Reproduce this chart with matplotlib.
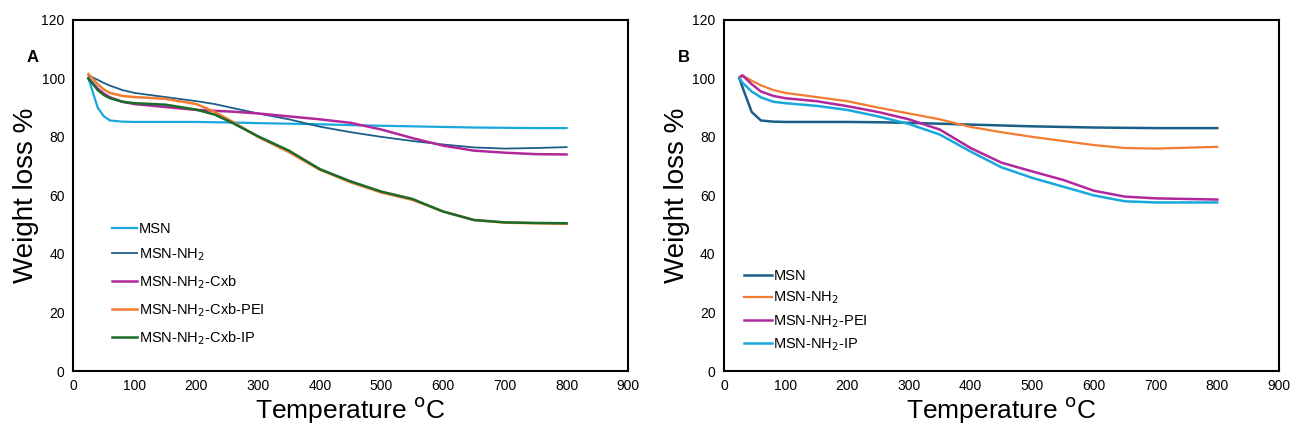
import numpy as np
import matplotlib.pyplot as plt

plt.rcParams['font.family'] = ['Liberation Sans', 'DejaVu Sans']

# ---- panel A data (temperature in C, weight %) ----
temp_a = [25, 40, 50, 60, 80, 100, 150, 200, 230, 260, 300, 350, 400, 450, 500, 550, 600, 650, 700, 750, 800]
msn_a = [100, 90, 87, 85.6, 85.2, 85.1, 85.1, 85.1, 85.0, 84.9, 84.7, 84.5, 84.3, 84.0, 83.8, 83.6, 83.4, 83.2, 83.1, 83.0, 83.0]
nh2_a = [101, 99.5, 98.4, 97.5, 96, 95, 93.6, 92.2, 91.2, 89.8, 88.0, 86.0, 83.5, 81.6, 80.0, 78.6, 77.4, 76.4, 76.0, 76.2, 76.5]
cxb_a = [100, 96.5, 94.8, 93.5, 92, 91.2, 90.2, 89.2, 88.9, 88.6, 88.0, 87.0, 86.0, 84.8, 82.5, 79.6, 77.0, 75.3, 74.6, 74.1, 74.0]
pei_a = [101.5, 98, 96.2, 95, 94, 93.6, 93.0, 91.2, 88.5, 85.0, 80.0, 74.8, 68.8, 64.5, 61.0, 58.5, 54.5, 51.6, 50.7, 50.5, 50.3]
ip_a = [100, 96, 94.3, 93.2, 92, 91.5, 91.0, 89.3, 87.6, 84.6, 80.2, 75.3, 69.0, 64.8, 61.3, 58.8, 54.5, 51.6, 50.8, 50.6, 50.5]

# ---- panel B data ----
temp_b = [25, 30, 45, 60, 80, 100, 150, 200, 250, 300, 350, 400, 450, 500, 550, 600, 650, 700, 750, 800]
msn_b = [100, 97, 88.5, 85.6, 85.2, 85.1, 85.1, 85.1, 85.0, 84.8, 84.5, 84.2, 83.9, 83.6, 83.4, 83.2, 83.1, 83.0, 83.0, 83.0]
nh2_b = [100.5, 101, 99.2, 97.6, 96, 95, 93.6, 92.2, 90.0, 88.0, 86.0, 83.4, 81.6, 80.0, 78.6, 77.2, 76.2, 76.0, 76.3, 76.6]
pei_b = [100, 101, 98, 95.5, 94, 93.2, 92.2, 90.5, 88.5, 86.0, 82.5, 76.2, 71.2, 68.2, 65.3, 61.6, 59.6, 59.0, 58.8, 58.6]
ip_b = [100, 98.5, 95.5, 93.5, 92, 91.5, 90.6, 89.2, 87.0, 84.4, 80.8, 75.0, 69.6, 66.0, 63.0, 60.0, 58.0, 57.6, 57.6, 57.6]

labels_a = ['MSN', 'MSN-NH$_2$', 'MSN-NH$_2$-Cxb', 'MSN-NH$_2$-Cxb-PEI', 'MSN-NH$_2$-Cxb-IP']
labels_b = ['MSN', 'MSN-NH$_2$', 'MSN-NH$_2$-PEI', 'MSN-NH$_2$-IP']

c_light = '#19a8dc'
c_dark = '#1b5e87'
c_mag = '#b1289c'
c_orange = '#f47c30'
c_green = '#1b6b2a'

fig = plt.figure(figsize=(12.9, 4.3), dpi=100)
ax_a = fig.add_axes([0.0566, 0.137, 0.4304, 0.817])
ax_b = fig.add_axes([0.5612, 0.137, 0.4302, 0.817])

ax_a.plot(temp_a, msn_a, color=c_light, lw=1.6, label=labels_a[0])
ax_a.plot(temp_a, nh2_a, color=c_dark, lw=1.3, label=labels_a[1])
ax_a.plot(temp_a, cxb_a, color=c_mag, lw=1.8, label=labels_a[2])
ax_a.plot(temp_a, pei_a, color=c_orange, lw=1.8, label=labels_a[3])
ax_a.plot(temp_a, ip_a, color=c_green, lw=1.8, label=labels_a[4])

ax_b.plot(temp_b, msn_b, color=c_dark, lw=1.8, label=labels_b[0])
ax_b.plot(temp_b, nh2_b, color=c_orange, lw=1.6, label=labels_b[1])
ax_b.plot(temp_b, pei_b, color=c_mag, lw=1.8, label=labels_b[2])
ax_b.plot(temp_b, ip_b, color=c_light, lw=1.8, label=labels_b[3])

for ax, letter in [(ax_a, 'A'), (ax_b, 'B')]:
    ax.set_xlim(0, 900)
    ax.set_ylim(0, 120)
    ax.set_xticks(range(0, 901, 100))
    ax.set_yticks(range(0, 121, 20))
    ax.tick_params(length=0, labelsize=10, pad=6)
    for s in ax.spines.values():
        s.set_linewidth(1.5)
    ax.set_xlabel('Temperature $^{\\mathrm{o}}$C', fontsize=19, labelpad=1)
    ax.set_ylabel('Weight loss %', fontsize=20, labelpad=2)
    ax.text(-0.083, 0.88, letter, transform=ax.transAxes, fontsize=12, fontweight='bold')

ax_a.legend(loc='upper left', bbox_to_anchor=(0.047, 0.462), frameon=False, fontsize=10.5,
            handlelength=1.7, handletextpad=0.15, labelspacing=0.7)
ax_b.legend(loc='upper left', bbox_to_anchor=(0.013, 0.328), frameon=False, fontsize=10.5,
            handlelength=1.9, handletextpad=0.1, labelspacing=0.46)

fig.savefig('out.png', dpi=100)
